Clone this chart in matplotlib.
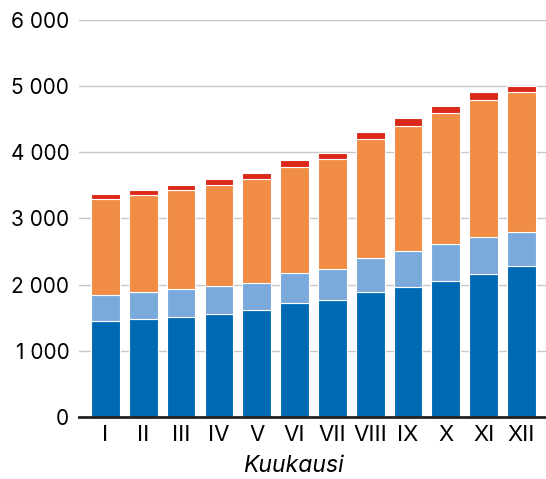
import matplotlib
matplotlib.use("Agg")
import matplotlib.pyplot as plt
from matplotlib import ticker
import numpy as np

plt.rcParams['font.family'] = ['Inter', 'DejaVu Sans']

months = ['I', 'II', 'III', 'IV', 'V', 'VI', 'VII', 'VIII', 'IX', 'X', 'XI', 'XII']
s_blue = [1450, 1480, 1515, 1560, 1610, 1720, 1765, 1885, 1960, 2050, 2160, 2275]
s_lightblue = [395, 400, 415, 415, 415, 455, 470, 515, 540, 565, 565, 515]
s_orange = [1445, 1470, 1500, 1535, 1570, 1605, 1660, 1800, 1905, 1975, 2065, 2120]
s_red = [80, 80, 80, 80, 85, 100, 100, 100, 115, 115, 115, 100]

series = [s_blue, s_lightblue, s_orange, s_red]
colors = ['#0069b4', '#7aaadb', '#f08c44', '#dc2819']

f = plt.figure(figsize=(5.46, 4.79), dpi=100)
ax = f.add_axes([0.1447, 0.130, 0.8553, 0.828])

x = np.arange(len(months))
bottom = np.zeros(len(months))
for vals, c in zip(series, colors):
    ax.bar(x, vals, width=0.76, bottom=bottom, color=c, edgecolor='white', linewidth=0.8, zorder=3)
    bottom += np.array(vals)

ax.set_ylim(0, 6000)
ax.set_xlim(-0.7, 11.65)
ax.yaxis.set_major_locator(ticker.MultipleLocator(1000))
ax.yaxis.set_major_formatter(ticker.FuncFormatter(lambda v, p: f'{int(v):,}'.replace(',', ' ')))
ax.grid(axis='y', color='#c8c8c8', linewidth=1, zorder=0)
ax.set_xticks(x)
ax.set_xticklabels(months)
ax.tick_params(axis='y', length=0, pad=7, labelsize=15)
ax.tick_params(axis='x', length=0, pad=6, labelsize=16)
for s in ['top', 'right', 'left']:
    ax.spines[s].set_visible(False)
ax.spines['bottom'].set_linewidth(2)
ax.spines['bottom'].set_color('#222222')
ax.spines['bottom'].set_zorder(4)
f.text(293 / 546, 1 - 466 / 479, 'Kuukausi', fontsize=16.5, style='italic', ha='center', va='center')

f.savefig('out.png', dpi=100)
